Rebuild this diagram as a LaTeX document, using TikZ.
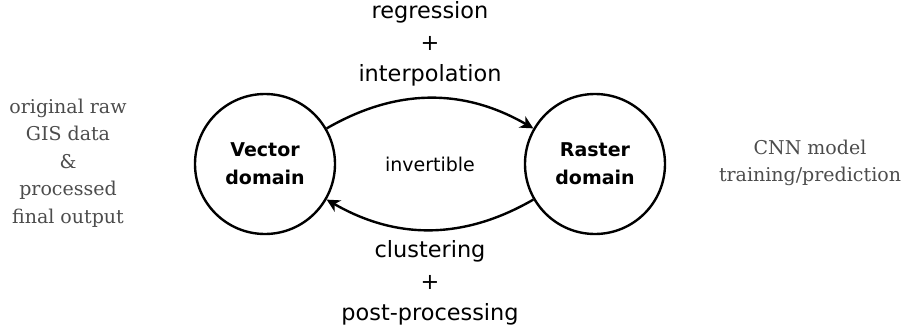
\documentclass[tikz,border=0pt]{standalone}
\usepackage{fontspec}
\setsansfont{DejaVu Sans}
\newfontfamily\sideserif{DejaVu Serif}
\usetikzlibrary{arrows.meta}
\begin{document}
\begin{tikzpicture}[x=1pt,y=1pt,
    domainnode/.style={circle, draw, line width=2.4pt, minimum size=140pt, inner sep=0pt,
      align=center, font=\sffamily\bfseries\fontsize{19}{28}\selectfont},
    conv/.style={-{Stealth[length=13pt,width=13pt,inset=4pt]}, line width=2.4pt},
    oplabel/.style={align=center, font=\sffamily\fontsize{22.4}{31.5}\selectfont},
    sidelabel/.style={align=center, text=black!70, font=\sideserif\fontsize{19}{27.5}\selectfont}]
            % fix the page size
            \useasboundingbox (0,0) rectangle (906,333);

            % Draw the two domains
            \node[domainnode] (vec) at (265,169) {Vector\\domain};
            \node[domainnode] (ras) at (595,169) {Raster\\domain};

            % Draw the conversions
            \draw[conv] (vec) to[bend left=30] (ras);
            \draw[conv] (ras) to[bend left=30] (vec);

            % Add labels
            \node[font=\sffamily\fontsize{19}{28}\selectfont] (inv) at (430,169) {invertible};
            \node[oplabel] (fwd) at (430,289) {regression\\+\\interpolation};
            \node[oplabel] (bwd) at (430,50) {clustering\\+\\post-processing};
            \node[sidelabel] (raw) at (68,170) {original raw\\GIS data\\\&\\processed\\final output};
            \node[sidelabel] (cnn) at (810,170) {CNN model\\training/prediction};
\end{tikzpicture}
\end{document}
